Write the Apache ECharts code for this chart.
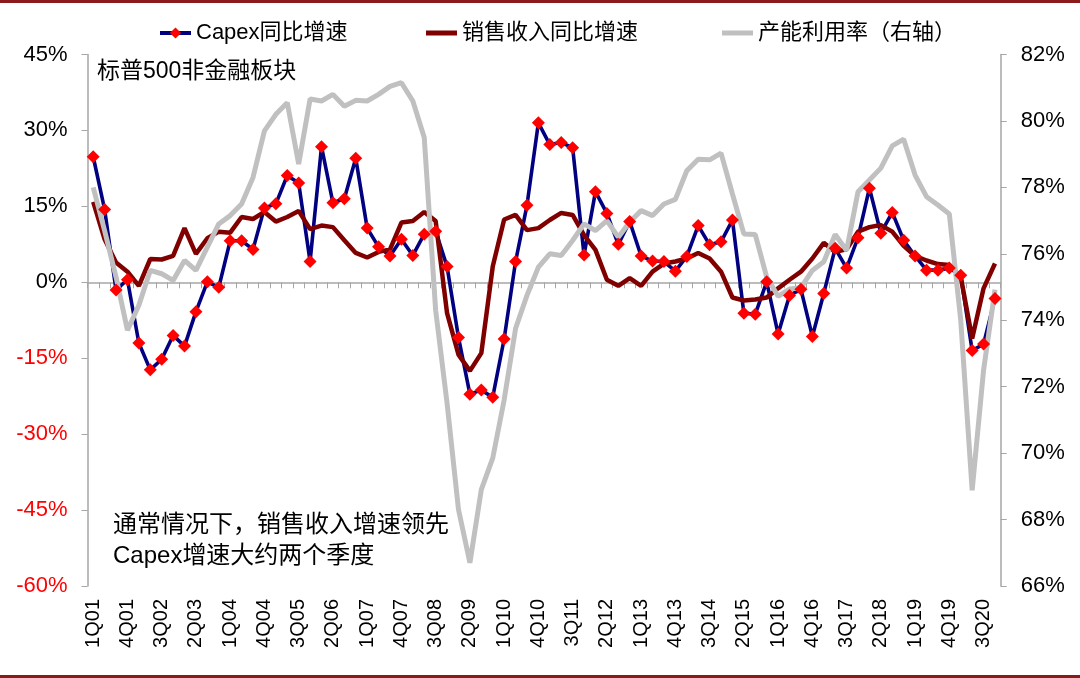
<!DOCTYPE html>
<html>
<head>
<meta charset="utf-8">
<script src="https://cdn.jsdelivr.net/npm/echarts@6/dist/echarts.min.js"></script>
<style>
html,body{margin:0;padding:0;background:#fff;}
#chart{width:1080px;height:678px;}
</style>
</head>
<body>
<div id="chart"></div>
<script>
// Quarter categories 1Q01 .. 4Q20
const categories = [];
for (let y = 2001; y <= 2020; y++) {
  for (let q = 1; q <= 4; q++) categories.push(q + 'Q' + String(y).slice(2));
}

// Capex YoY growth (%), left axis
const capexYoY = [24.8, 14.4, -1.5, 0.5, -12.0, -17.3, -15.2, -10.5, -12.6, -5.8,
  0.1, -1.0, 8.2, 8.2, 6.5, 14.7, 15.5, 21.1, 19.6, 4.1,
  26.8, 15.7, 16.5, 24.5, 10.7, 7.0, 5.2, 8.5, 5.3, 9.5,
  10.1, 3.1, -10.9, -22.1, -21.3, -22.7, -11.2, 4.1, 15.2, 31.5,
  27.2, 27.6, 26.6, 5.4, 17.9, 13.6, 7.5, 12.0, 5.2, 4.2,
  4.1, 2.2, 5.1, 11.2, 7.4, 8.0, 12.3, -6.1, -6.3, 0.1,
  -10.2, -2.6, -1.4, -10.7, -2.2, 6.7, 2.8, 8.8, 18.6, 9.7,
  13.8, 8.3, 5.2, 2.4, 2.4, 2.8, 1.4, -13.5, -12.2, -3.2];

// Sales revenue YoY growth (%), left axis
const salesYoY = [15.9, 8.5, 3.9, 2.1, -0.7, 4.6, 4.5, 5.2, 10.7, 5.6,
  8.7, 10.0, 9.8, 12.9, 12.5, 13.9, 12.0, 12.9, 14.1, 10.5,
  11.2, 10.9, 8.3, 5.8, 4.9, 6.0, 6.5, 11.8, 12.1, 13.9,
  12.1, -6.1, -14.3, -17.5, -14.0, 3.1, 12.4, 13.3, 10.3, 10.7,
  12.3, 13.7, 13.3, 9.3, 6.4, 0.5, -0.7, 0.8, -0.7, 2.1,
  3.7, 4.1, 4.7, 5.8, 4.7, 2.1, -3.0, -3.6, -3.4, -3.0,
  -1.2, 0.5, 2.1, 4.7, 7.8, 6.0, 6.5, 10.0, 10.9, 11.3,
  10.0, 7.2, 5.2, 4.3, 3.6, 3.4, 1.1, -11.1, -1.2, 3.7];

// Capacity utilization (%), right axis
const capacityUtil = [78.0, 76.7, 75.3, 73.7, 74.45, 75.5, 75.4, 75.2, 75.8, 75.5,
  76.2, 76.9, 77.15, 77.5, 78.3, 79.7, 80.2, 80.55, 78.7, 80.66,
  80.6, 80.8, 80.44, 80.62, 80.6, 80.8, 81.04, 81.15, 80.6, 79.5,
  74.3, 71.5, 68.3, 66.7, 68.9, 69.85, 71.6, 73.75, 74.75, 75.6,
  76.0, 75.95, 76.4, 76.9, 76.7, 77.0, 76.5, 76.96, 77.3, 77.15,
  77.5, 77.64, 78.5, 78.85, 78.83, 79.03, 77.8, 76.6, 76.58, 75.3,
  74.72, 74.94, 74.98, 75.5, 75.76, 76.58, 76.1, 77.87, 78.22, 78.58,
  79.25, 79.45, 78.37, 77.72, 77.47, 77.2, 74.0, 68.88, 72.5, 74.92];

const seriesNames = ['Capex同比增速', '销售收入同比增速', '产能利用率（右轴）'];
const leftTicks = { min: -60, max: 45, interval: 15 };
const rightTicks = { min: 66, max: 82, interval: 2 };
const noteTop = '标普500非金融板块';
const noteBottom1 = '通常情况下，销售收入增速领先';
const noteBottom2 = 'Capex增速大约两个季度';

const FONT = "'Liberation Sans', Arial, 'Noto Sans CJK SC', sans-serif";
const axisGray = '#A6A6A6';

const chart = echarts.init(document.getElementById('chart'), null, { renderer: 'canvas' });

const legendBase = {
  top: 17, itemWidth: 31, itemHeight: 14, itemGap: 0,
  textStyle: { fontFamily: FONT, fontSize: 22, color: '#000' }
};

chart.setOption({
  animation: false,
  backgroundColor: '#fff',
  textStyle: { fontFamily: FONT },
  grid: { left: 87.5, right: 79.3, top: 54.5, bottom: 92, containLabel: false },
  legend: [
    Object.assign({}, legendBase, { left: 153, lineStyle: { width: 4 }, data: [seriesNames[0]] }),
    Object.assign({}, legendBase, { left: 421, itemHeight: 5, data: [{ name: seriesNames[1], icon: 'rect' }] }),
    Object.assign({}, legendBase, { left: 717, itemHeight: 5, data: [{ name: seriesNames[2], icon: 'rect' }] })
  ],
  xAxis: [
    {
      type: 'category', data: categories, position: 'bottom', boundaryGap: true,
      axisLine: { show: false, onZero: false }, axisTick: { show: false },
      axisLabel: { interval: 2, rotate: 90, margin: 13, fontSize: 20, color: '#000', fontFamily: FONT },
      splitLine: { show: false }
    },
    {
      type: 'category', data: categories, position: 'top', boundaryGap: true,
      axisLine: { show: true, onZero: true, onZeroAxisIndex: 0, lineStyle: { color: axisGray, width: 1.5 } },
      axisTick: { show: true, interval: 0, inside: true, length: 6, lineStyle: { color: axisGray, width: 1 } },
      axisLabel: { show: false }, splitLine: { show: false }
    }
  ],
  yAxis: [
    {
      type: 'value', position: 'left', min: leftTicks.min, max: leftTicks.max, interval: leftTicks.interval,
      axisLine: { show: true, lineStyle: { color: axisGray, width: 1.5 } },
      axisTick: { show: true, length: 6, lineStyle: { color: axisGray } },
      axisLabel: {
        margin: 20, fontSize: 22, fontFamily: FONT,
        formatter: v => v + '%',
        color: v => (Number(v) < 0 ? '#FF0000' : '#000')
      },
      splitLine: { show: false }
    },
    {
      type: 'value', position: 'right', min: rightTicks.min, max: rightTicks.max, interval: rightTicks.interval,
      axisLine: { show: true, lineStyle: { color: axisGray, width: 1.5 } },
      axisTick: { show: true, length: 6, lineStyle: { color: axisGray } },
      axisLabel: { margin: 20, fontSize: 22, fontFamily: FONT, color: '#000', formatter: v => v + '%' },
      splitLine: { show: false }
    }
  ],
  series: [
    {
      name: seriesNames[0], type: 'line', xAxisIndex: 0, yAxisIndex: 0, data: capexYoY,
      symbol: 'diamond', symbolSize: 13, showAllSymbol: true,
      lineStyle: { color: '#000080', width: 3.6 },
      itemStyle: { color: '#FF0000' }
    },
    {
      name: seriesNames[1], type: 'line', xAxisIndex: 0, yAxisIndex: 0, data: salesYoY,
      symbol: 'none', lineStyle: { color: '#800000', width: 4.5 }, itemStyle: { color: '#800000' }
    },
    {
      name: seriesNames[2], type: 'line', xAxisIndex: 0, yAxisIndex: 1, data: capacityUtil,
      symbol: 'none', lineStyle: { color: '#C0C0C0', width: 5 }, itemStyle: { color: '#C0C0C0' }
    }
  ],
  graphic: [
    { type: 'rect', left: 0, top: 0, shape: { width: 1080, height: 3 }, style: { fill: '#8B1A1A' } },
    { type: 'rect', left: 0, top: 675, shape: { width: 1080, height: 3 }, style: { fill: '#8B1A1A' } },
    { type: 'text', left: 97, top: 60, style: { text: noteTop, font: "23px 'Liberation Sans', 'Noto Sans CJK SC', sans-serif", fill: '#000' } },
    { type: 'text', left: 113, top: 513, style: { text: noteBottom1, font: "24px 'Liberation Sans', 'Noto Sans CJK SC', sans-serif", fill: '#000' } },
    { type: 'text', left: 113, top: 544, style: { text: noteBottom2, font: "24px 'Liberation Sans', 'Noto Sans CJK SC', sans-serif", fill: '#000' } }
  ]
});
</script>
</body>
</html>
